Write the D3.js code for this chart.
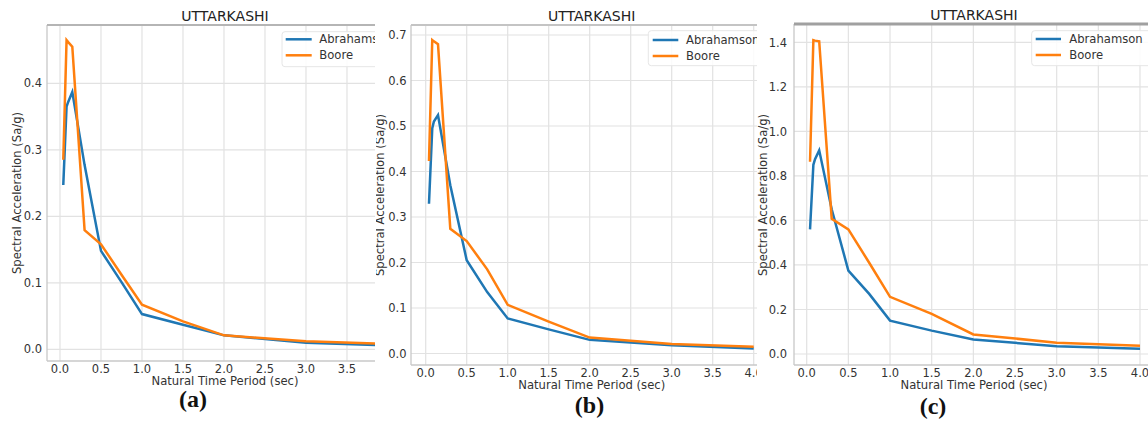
<!DOCTYPE html>
<html><head><meta charset="utf-8">
<script src="https://cdn.jsdelivr.net/npm/d3@7"></script>
<style>html,body{margin:0;padding:0;background:#fff;} svg{display:block;}</style>
</head><body>
<svg id="chart" width="1148" height="424"></svg>
<script>
// ---- data ----
const periods = [0.04, 0.08, 0.1, 0.15, 0.3, 0.5, 0.75, 1.0, 1.5, 2.0, 3.0, 4.0];
const abrahamsonA = [0.247, 0.365, 0.372, 0.387, 0.277, 0.148, 0.101, 0.053, 0.037, 0.021, 0.010, 0.006];
const booreA      = [0.285, 0.465, 0.462, 0.455, 0.179, 0.158, 0.112, 0.067, 0.042, 0.021, 0.012, 0.008];
const abrahamsonB = [0.329, 0.495, 0.510, 0.524, 0.370, 0.205, 0.135, 0.077, 0.053, 0.030, 0.018, 0.011];
const booreB      = [0.423, 0.689, 0.686, 0.680, 0.274, 0.247, 0.185, 0.107, 0.070, 0.035, 0.021, 0.015];
const abrahamsonC = [0.560, 0.850, 0.875, 0.915, 0.650, 0.375, 0.270, 0.150, 0.105, 0.065, 0.035, 0.024];
const booreC      = [0.864, 1.410, 1.408, 1.405, 0.607, 0.560, 0.410, 0.257, 0.180, 0.088, 0.051, 0.037];
const xTicks = [0, 0.5, 1.0, 1.5, 2.0, 2.5, 3.0, 3.5, 4.0];
const yTicksA = [0.0, 0.1, 0.2, 0.3, 0.4];
const yTicksB = [0.0, 0.1, 0.2, 0.3, 0.4, 0.5, 0.6, 0.7];
const yTicksC = [0.0, 0.2, 0.4, 0.6, 0.8, 1.0, 1.2, 1.4];
const seriesNames = ["Abrahamson", "Boore"];
const chartTitle = "UTTARKASHI";
const xLabel = "Natural Time Period (sec)";
const yLabel = "Spectral Acceleration (Sa/g)";
const panelLabels = ["(a)", "(b)", "(c)"];

const colors = ["#1f77b4", "#ff7f0e"];
const font = "'DejaVu Sans', sans-serif";

const panels = [
  {series:[abrahamsonA, booreA], yTicks:yTicksA, yDom:[0,0.4], yRange:[349.3,83.3], xRange:[60,388],
   clip:[0,375], left:47, top:25, bottom:361, topW:2, topC:"#b5b5b5",
   titleX:225, titleY:20.5, xlabY:385, tickY:373, ytickX:42, ylabX:17, ylabY:193,
   legX:282, legY:31.7, legLine:[285.7,311.7], legTextX:319.3, legRows:[39.3,55.3], plX:193, plY:407},
  {series:[abrahamsonB, booreB], yTicks:yTicksB, yDom:[0,0.7], yRange:[353.5,35], xRange:[425.7,753.7],
   clip:[376,757], left:411, top:25, bottom:365, topW:2, topC:"#c4c4c4",
   titleX:591.7, titleY:20.5, xlabY:389, tickY:377, ytickX:406.5, ylabX:380, ylabY:195,
   legX:648.3, legY:30.7, legLine:[652.7,678.3], legTextX:686, legRows:[40,56], plX:589.5, plY:413},
  {series:[abrahamsonC, booreC], yTicks:yTicksC, yDom:[0,1.4], yRange:[354,42.4], xRange:[806.7,1140],
   clip:[757,1148], left:794, top:24, bottom:365, topW:3, topC:"#a0a0a0",
   titleX:974, titleY:20, xlabY:389, tickY:377, ytickX:787, ylabX:762.7, ylabY:195,
   legX:1031.7, legY:30.7, legLine:[1035.7,1061], legTextX:1069.3, legRows:[39,55], plX:933, plY:414}
];

const svg = d3.select("#chart");
const defs = svg.append("defs");

panels.forEach((p, i) => {
  const cid = "clip" + i;
  defs.append("clipPath").attr("id", cid).append("rect")
    .attr("x", p.clip[0]).attr("y", 0).attr("width", p.clip[1]-p.clip[0]).attr("height", 424);
  const g = svg.append("g").attr("clip-path", `url(#${cid})`);
  const x = d3.scaleLinear().domain([0, 4]).range(p.xRange);
  const y = d3.scaleLinear().domain(p.yDom).range(p.yRange);
  const right = p.clip[1] + 40;

  // grid
  g.selectAll(".gx").data(xTicks).join("line")
    .attr("x1", d => x(d)).attr("x2", d => x(d)).attr("y1", p.top).attr("y2", p.bottom)
    .attr("stroke", "#e2e2e2").attr("stroke-width", 1.2);
  g.selectAll(".gy").data(p.yTicks).join("line")
    .attr("x1", p.left).attr("x2", right).attr("y1", d => y(d)).attr("y2", d => y(d))
    .attr("stroke", "#e2e2e2").attr("stroke-width", 1.2);

  // spines
  g.append("line").attr("x1", p.left).attr("x2", p.left).attr("y1", p.top).attr("y2", p.bottom)
    .attr("stroke", "#c8c8c8").attr("stroke-width", 1.3);
  g.append("line").attr("x1", p.left).attr("x2", right).attr("y1", p.bottom).attr("y2", p.bottom)
    .attr("stroke", "#c8c8c8").attr("stroke-width", 1.3);
  g.append("line").attr("x1", p.left).attr("x2", right).attr("y1", p.top).attr("y2", p.top)
    .attr("stroke", p.topC).attr("stroke-width", p.topW);

  // lines
  const line = d3.line().x((d, j) => x(periods[j])).y(d => y(d));
  p.series.forEach((s, k) => {
    g.append("path").datum(s).attr("d", line).attr("fill", "none")
      .attr("stroke", colors[k]).attr("stroke-width", 2.5).attr("stroke-linejoin", "miter");
  });

  // tick labels
  g.selectAll(".tx").data(xTicks).join("text")
    .attr("x", d => x(d)).attr("y", p.tickY).attr("text-anchor", "middle")
    .attr("font-family", font).attr("font-size", 11.5).attr("fill", "#333")
    .text(d => d.toFixed(1));
  g.selectAll(".ty").data(p.yTicks).join("text")
    .attr("x", p.ytickX).attr("y", d => y(d)).attr("dy", "0.36em").attr("text-anchor", "end")
    .attr("font-family", font).attr("font-size", 11.5).attr("fill", "#333")
    .text(d => d.toFixed(1));

  // labels
  g.append("text").attr("x", p.titleX).attr("y", p.titleY).attr("text-anchor", "middle")
    .attr("font-family", font).attr("font-size", 14).attr("fill", "#222").text(chartTitle);
  g.append("text").attr("x", p.titleX).attr("y", p.xlabY).attr("text-anchor", "middle")
    .attr("font-family", font).attr("font-size", 11.6).attr("fill", "#333").text(xLabel);
  g.append("text").attr("transform", `translate(${p.ylabX},${p.ylabY}) rotate(-90)`)
    .attr("dy", "0.35em").attr("text-anchor", "middle")
    .attr("font-family", font).attr("font-size", 11.6).attr("fill", "#333").text(yLabel);

  // legend
  g.append("rect").attr("x", p.legX).attr("y", p.legY).attr("width", 140).attr("height", 35)
    .attr("rx", 3).attr("fill", "#fff").attr("fill-opacity", 0.85).attr("stroke", "#e6e6e6");
  seriesNames.forEach((nm, k) => {
    g.append("line").attr("x1", p.legLine[0]).attr("x2", p.legLine[1])
      .attr("y1", p.legRows[k]).attr("y2", p.legRows[k])
      .attr("stroke", colors[k]).attr("stroke-width", 2.5);
    g.append("text").attr("x", p.legTextX).attr("y", p.legRows[k]).attr("dy", "0.36em")
      .attr("font-family", font).attr("font-size", 11.6).attr("fill", "#333").text(nm);
  });

  // panel label
  svg.append("text").attr("x", p.plX).attr("y", p.plY).attr("text-anchor", "middle")
    .attr("font-family", "'Liberation Serif', 'Times New Roman', serif").attr("font-weight", "bold")
    .attr("font-size", 24).attr("fill", "#111").text(panelLabels[i]);
});
</script>
</body></html>
